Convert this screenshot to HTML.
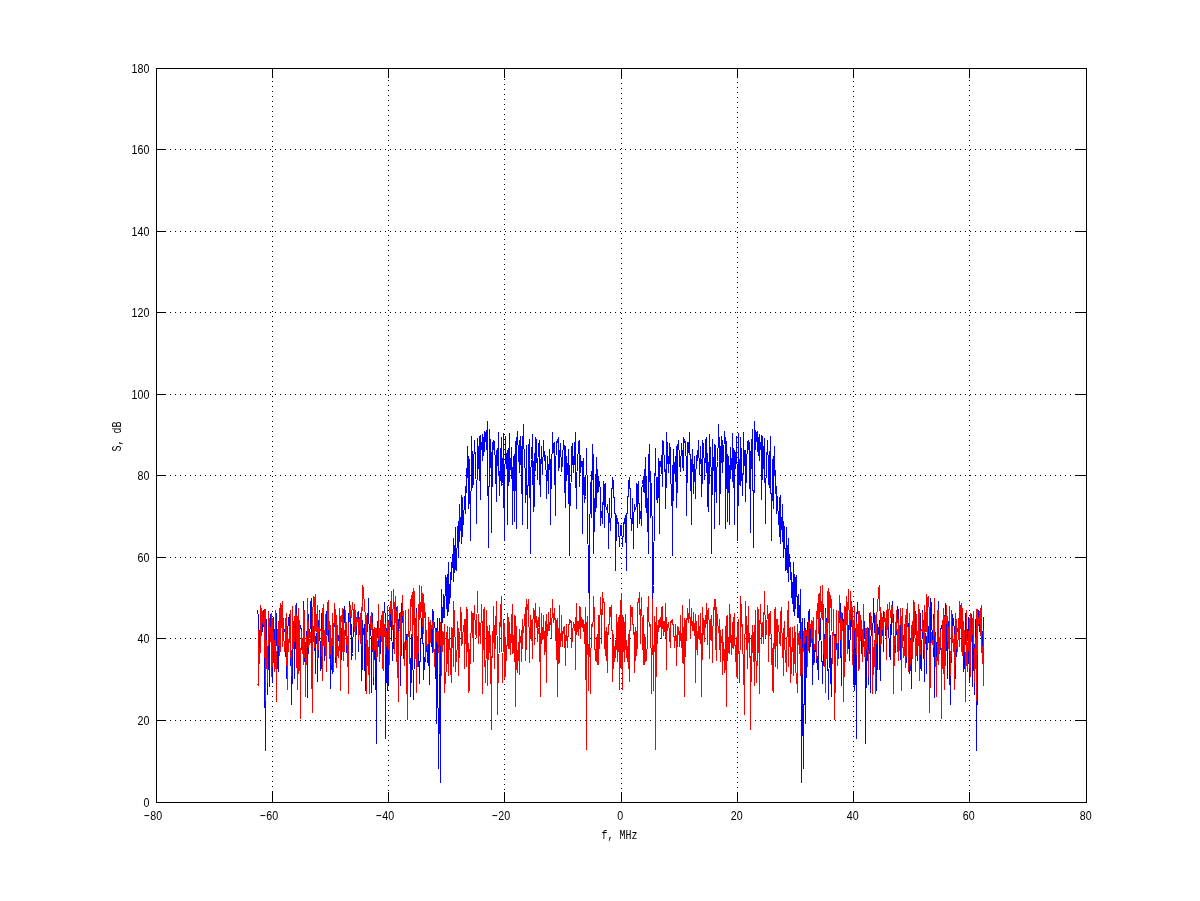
<!DOCTYPE html>
<html><head><meta charset="utf-8"><title>plot</title>
<style>
html,body{margin:0;padding:0;background:#fff;}
svg{display:block}
text{font-family:"Liberation Sans",sans-serif;font-size:12px;fill:#000}
.m{font-family:"Liberation Mono",monospace;font-size:13px}
</style></head><body>
<svg width="1200" height="901" viewBox="0 0 1200 901">
<rect width="1200" height="901" fill="#fff"/>
<g stroke="#000" stroke-width="1" stroke-dasharray="1 4" shape-rendering="crispEdges"><line x1="272.5" y1="71" x2="272.5" y2="802"/><line x1="388.5" y1="70" x2="388.5" y2="802"/><line x1="504.5" y1="74" x2="504.5" y2="802"/><line x1="621.5" y1="73" x2="621.5" y2="802"/><line x1="737.5" y1="72" x2="737.5" y2="802"/><line x1="853.5" y1="71" x2="853.5" y2="802"/><line x1="969.5" y1="70" x2="969.5" y2="802"/><line x1="160" y1="720.5" x2="1077" y2="720.5"/><line x1="160" y1="638.5" x2="1077" y2="638.5"/><line x1="160" y1="557.5" x2="1077" y2="557.5"/><line x1="160" y1="475.5" x2="1077" y2="475.5"/><line x1="160" y1="394.5" x2="1077" y2="394.5"/><line x1="160" y1="312.5" x2="1077" y2="312.5"/><line x1="160" y1="231.5" x2="1077" y2="231.5"/><line x1="160" y1="149.5" x2="1077" y2="149.5"/></g>
<polyline points="257.5,610.5 258.5,616.5 258.5,619.5 259.5,651.5 260.5,609.5 260.5,625.5 261.5,631.5 261.5,616.5 262.5,613.5 262.5,631.5 263.5,610.5 264.5,643.5 264.5,662.5 265.5,750.5 265.5,638.5 266.5,619.5 267.5,670.5 267.5,694.5 268.5,647.5 268.5,641.5 269.5,686.5 269.5,638.5 270.5,614.5 271.5,662.5 271.5,675.5 272.5,653.5 272.5,682.5 273.5,645.5 273.5,617.5 274.5,640.5 275.5,630.5 275.5,611.5 276.5,614.5 276.5,623.5 277.5,668.5 278.5,642.5 278.5,671.5 279.5,626.5 279.5,634.5 280.5,642.5 280.5,639.5 281.5,605.5 282.5,645.5 282.5,638.5 283.5,618.5 283.5,625.5 284.5,631.5 285.5,631.5 285.5,656.5 286.5,630.5 286.5,676.5 287.5,681.5 287.5,631.5 288.5,620.5 289.5,614.5 289.5,633.5 290.5,635.5 290.5,624.5 291.5,704.5 292.5,664.5 292.5,659.5 293.5,638.5 293.5,622.5 294.5,620.5 294.5,678.5 295.5,622.5 296.5,628.5 296.5,603.5 297.5,627.5 297.5,616.5 298.5,628.5 298.5,625.5 299.5,630.5 300.5,626.5 300.5,625.5 301.5,630.5 301.5,647.5 302.5,652.5 303.5,640.5 303.5,601.5 304.5,624.5 304.5,640.5 305.5,683.5 305.5,642.5 306.5,648.5 307.5,614.5 307.5,697.5 308.5,614.5 308.5,641.5 309.5,638.5 310.5,620.5 310.5,604.5 311.5,598.5 311.5,665.5 312.5,623.5 312.5,654.5 313.5,630.5 314.5,621.5 314.5,628.5 315.5,673.5 315.5,636.5 316.5,643.5 317.5,622.5 317.5,681.5 318.5,636.5 318.5,620.5 319.5,634.5 319.5,610.5 320.5,670.5 321.5,667.5 321.5,613.5 322.5,630.5 322.5,624.5 323.5,642.5 323.5,621.5 324.5,660.5 325.5,629.5 325.5,643.5 326.5,611.5 326.5,634.5 327.5,634.5 328.5,625.5 328.5,640.5 329.5,642.5 329.5,621.5 330.5,637.5 330.5,688.5 331.5,652.5 332.5,625.5 332.5,673.5 333.5,630.5 333.5,623.5 334.5,623.5 335.5,630.5 335.5,662.5 336.5,645.5 336.5,631.5 337.5,640.5 337.5,629.5 338.5,640.5 339.5,636.5 339.5,614.5 340.5,631.5 340.5,671.5 341.5,648.5 342.5,608.5 342.5,643.5 343.5,634.5 343.5,609.5 344.5,622.5 344.5,606.5 345.5,619.5 346.5,652.5 346.5,649.5 347.5,644.5 347.5,637.5 348.5,664.5 348.5,625.5 349.5,601.5 350.5,634.5 350.5,614.5 351.5,633.5 351.5,659.5 352.5,653.5 353.5,621.5 353.5,614.5 354.5,608.5 354.5,609.5 355.5,617.5 355.5,649.5 356.5,621.5 357.5,613.5 357.5,615.5 358.5,611.5 358.5,651.5 359.5,620.5 360.5,629.5 360.5,630.5 361.5,626.5 361.5,680.5 362.5,659.5 362.5,620.5 363.5,634.5 364.5,624.5 364.5,651.5 365.5,690.5 365.5,632.5 366.5,628.5 366.5,637.5 367.5,627.5 368.5,598.5 368.5,609.5 369.5,637.5 369.5,642.5 370.5,628.5 371.5,643.5 371.5,692.5 372.5,613.5 372.5,619.5 373.5,637.5 373.5,684.5 374.5,637.5 375.5,638.5 375.5,634.5 376.5,743.5 376.5,655.5 377.5,621.5 378.5,646.5 378.5,642.5 379.5,645.5 379.5,659.5 380.5,648.5 380.5,635.5 381.5,630.5 382.5,620.5 382.5,648.5 383.5,663.5 383.5,624.5 384.5,602.5 385.5,622.5 385.5,738.5 386.5,628.5 386.5,675.5 387.5,690.5 387.5,613.5 388.5,684.5 389.5,620.5 389.5,621.5 390.5,626.5 390.5,617.5 391.5,606.5 391.5,621.5 392.5,660.5 393.5,637.5 393.5,625.5 394.5,645.5 394.5,632.5 395.5,603.5 396.5,635.5 396.5,607.5 397.5,662.5 397.5,651.5 398.5,619.5 398.5,629.5 399.5,613.5 400.5,635.5 400.5,685.5 401.5,629.5 401.5,603.5 402.5,622.5 403.5,616.5 403.5,658.5 404.5,653.5 404.5,652.5 405.5,647.5 405.5,648.5 406.5,634.5 407.5,639.5 407.5,645.5 408.5,622.5 408.5,611.5 409.5,657.5 410.5,659.5 410.5,696.5 411.5,670.5 411.5,649.5 412.5,619.5 412.5,639.5 413.5,699.5 414.5,641.5 414.5,633.5 415.5,631.5 415.5,618.5 416.5,636.5 416.5,608.5 417.5,661.5 418.5,623.5 418.5,650.5 419.5,683.5 419.5,661.5 420.5,661.5 421.5,618.5 421.5,623.5 422.5,622.5 422.5,605.5 423.5,679.5 423.5,643.5 424.5,669.5 425.5,655.5 425.5,634.5 426.5,645.5 426.5,641.5 427.5,662.5 428.5,631.5 428.5,647.5 429.5,684.5 429.5,636.5 430.5,635.5 430.5,624.5 431.5,646.5 432.5,609.5 432.5,652.5 433.5,611.5 433.5,623.5 434.5,622.5 435.5,632.5 435.5,632.5 436.5,723.5 436.5,637.5 437.5,618.5 437.5,644.5 438.5,768.5 439.5,700.5 439.5,618.5 440.5,782.5 440.5,648.5 441.5,637.5 441.5,589.5 442.5,622.5 443.5,594.5 443.5,617.5 444.5,596.5 444.5,617.5 445.5,575.5 446.5,608.5 446.5,577.5 447.5,615.5 447.5,574.5 448.5,611.5 448.5,562.5 449.5,603.5 450.5,572.5 450.5,597.5 451.5,562.5 451.5,579.5 452.5,554.5 453.5,581.5 453.5,538.5 454.5,572.5 454.5,545.5 455.5,569.5 455.5,527.5 456.5,570.5 457.5,526.5 457.5,547.5 458.5,521.5 458.5,557.5 459.5,504.5 459.5,541.5 460.5,517.5 461.5,543.5 461.5,495.5 462.5,536.5 462.5,497.5 463.5,524.5 464.5,496.5 464.5,506.5 465.5,486.5 465.5,513.5 466.5,473.5 466.5,491.5 467.5,446.5 468.5,508.5 468.5,456.5 469.5,461.5 469.5,464.5 470.5,540.5 471.5,444.5 471.5,436.5 472.5,465.5 472.5,487.5 473.5,482.5 473.5,468.5 474.5,440.5 475.5,463.5 475.5,457.5 476.5,500.5 476.5,523.5 477.5,438.5 478.5,453.5 478.5,468.5 479.5,436.5 479.5,462.5 480.5,499.5 480.5,435.5 481.5,449.5 482.5,434.5 482.5,460.5 483.5,437.5 483.5,455.5 484.5,431.5 484.5,451.5 485.5,432.5 486.5,449.5 486.5,438.5 487.5,421.5 487.5,442.5 488.5,547.5 489.5,429.5 489.5,478.5 490.5,458.5 490.5,439.5 491.5,463.5 491.5,532.5 492.5,442.5 493.5,449.5 493.5,440.5 494.5,441.5 494.5,442.5 495.5,466.5 496.5,501.5 496.5,450.5 497.5,465.5 497.5,465.5 498.5,432.5 498.5,456.5 499.5,495.5 500.5,448.5 500.5,480.5 501.5,437.5 501.5,485.5 502.5,483.5 503.5,433.5 503.5,472.5 504.5,540.5 504.5,466.5 505.5,461.5 505.5,436.5 506.5,468.5 507.5,450.5 507.5,524.5 508.5,448.5 508.5,477.5 509.5,433.5 509.5,481.5 510.5,458.5 511.5,478.5 511.5,447.5 512.5,484.5 512.5,524.5 513.5,458.5 514.5,454.5 514.5,521.5 515.5,441.5 515.5,450.5 516.5,528.5 516.5,442.5 517.5,431.5 518.5,458.5 518.5,451.5 519.5,472.5 519.5,443.5 520.5,436.5 521.5,493.5 521.5,446.5 522.5,524.5 522.5,448.5 523.5,424.5 523.5,435.5 524.5,461.5 525.5,473.5 525.5,502.5 526.5,445.5 526.5,458.5 527.5,528.5 528.5,444.5 528.5,470.5 529.5,445.5 529.5,439.5 530.5,553.5 530.5,474.5 531.5,459.5 532.5,434.5 532.5,458.5 533.5,511.5 533.5,469.5 534.5,453.5 534.5,506.5 535.5,437.5 536.5,462.5 536.5,439.5 537.5,479.5 537.5,470.5 538.5,445.5 539.5,440.5 539.5,472.5 540.5,496.5 540.5,459.5 541.5,463.5 541.5,446.5 542.5,474.5 543.5,440.5 543.5,442.5 544.5,458.5 544.5,460.5 545.5,455.5 546.5,483.5 546.5,498.5 547.5,464.5 547.5,456.5 548.5,471.5 548.5,493.5 549.5,449.5 550.5,468.5 550.5,524.5 551.5,454.5 551.5,459.5 552.5,449.5 552.5,432.5 553.5,452.5 554.5,442.5 554.5,454.5 555.5,515.5 555.5,470.5 556.5,441.5 557.5,442.5 557.5,441.5 558.5,437.5 558.5,470.5 559.5,465.5 559.5,456.5 560.5,443.5 561.5,469.5 561.5,471.5 562.5,462.5 562.5,459.5 563.5,440.5 564.5,448.5 564.5,492.5 565.5,446.5 565.5,507.5 566.5,456.5 566.5,458.5 567.5,466.5 568.5,482.5 568.5,449.5 569.5,555.5 569.5,465.5 570.5,505.5 571.5,461.5 571.5,449.5 572.5,443.5 572.5,456.5 573.5,472.5 573.5,469.5 574.5,442.5 575.5,487.5 575.5,432.5 576.5,508.5 576.5,486.5 577.5,457.5 577.5,467.5 578.5,441.5 579.5,440.5 579.5,486.5 580.5,461.5 580.5,455.5 581.5,466.5 582.5,461.5 582.5,533.5 583.5,458.5 583.5,465.5 584.5,488.5 584.5,502.5 585.5,496.5 586.5,455.5 586.5,448.5 587.5,499.5 587.5,500.5 588.5,585.5 589.5,600.5 589.5,545.5 590.5,484.5 590.5,493.5 591.5,471.5 591.5,517.5 592.5,444.5 593.5,463.5 593.5,553.5 594.5,498.5 594.5,531.5 595.5,492.5 596.5,457.5 596.5,507.5 597.5,469.5 597.5,492.5 598.5,490.5 598.5,476.5 599.5,484.5 600.5,489.5 600.5,525.5 601.5,511.5 601.5,516.5 602.5,509.5 602.5,523.5 603.5,481.5 604.5,527.5 604.5,485.5 605.5,483.5 605.5,504.5 606.5,509.5 607.5,510.5 607.5,504.5 608.5,520.5 608.5,548.5 609.5,498.5 609.5,505.5 610.5,530.5 611.5,506.5 611.5,498.5 612.5,477.5 612.5,488.5 613.5,480.5 614.5,513.5 614.5,513.5 615.5,513.5 615.5,570.5 616.5,515.5 616.5,529.5 617.5,518.5 618.5,525.5 618.5,536.5 619.5,536.5 619.5,546.5 620.5,525.5 621.5,533.5 621.5,525.5 622.5,546.5 622.5,536.5 623.5,536.5 623.5,525.5 624.5,518.5 625.5,529.5 625.5,515.5 626.5,570.5 626.5,513.5 627.5,513.5 627.5,513.5 628.5,480.5 629.5,488.5 629.5,477.5 630.5,498.5 630.5,506.5 631.5,530.5 632.5,505.5 632.5,498.5 633.5,548.5 633.5,520.5 634.5,504.5 634.5,510.5 635.5,509.5 636.5,504.5 636.5,483.5 637.5,485.5 637.5,527.5 638.5,481.5 639.5,523.5 639.5,509.5 640.5,516.5 640.5,511.5 641.5,525.5 641.5,489.5 642.5,484.5 643.5,476.5 643.5,490.5 644.5,492.5 644.5,469.5 645.5,507.5 645.5,457.5 646.5,492.5 647.5,531.5 647.5,498.5 648.5,553.5 648.5,463.5 649.5,444.5 650.5,517.5 650.5,471.5 651.5,493.5 651.5,484.5 652.5,545.5 652.5,600.5 653.5,585.5 654.5,500.5 654.5,499.5 655.5,448.5 655.5,455.5 656.5,496.5 657.5,502.5 657.5,488.5 658.5,465.5 658.5,458.5 659.5,533.5 659.5,461.5 660.5,466.5 661.5,455.5 661.5,461.5 662.5,486.5 662.5,440.5 663.5,441.5 664.5,467.5 664.5,457.5 665.5,486.5 665.5,508.5 666.5,432.5 666.5,487.5 667.5,442.5 668.5,469.5 668.5,472.5 669.5,456.5 669.5,443.5 670.5,449.5 670.5,461.5 671.5,505.5 672.5,465.5 672.5,555.5 673.5,449.5 673.5,482.5 674.5,466.5 675.5,458.5 675.5,456.5 676.5,507.5 676.5,446.5 677.5,492.5 677.5,448.5 678.5,440.5 679.5,459.5 679.5,462.5 680.5,471.5 680.5,469.5 681.5,443.5 682.5,456.5 682.5,465.5 683.5,470.5 683.5,437.5 684.5,441.5 684.5,442.5 685.5,441.5 686.5,470.5 686.5,515.5 687.5,454.5 687.5,442.5 688.5,452.5 689.5,432.5 689.5,449.5 690.5,459.5 690.5,454.5 691.5,524.5 691.5,468.5 692.5,449.5 693.5,493.5 693.5,471.5 694.5,456.5 694.5,464.5 695.5,498.5 695.5,483.5 696.5,455.5 697.5,460.5 697.5,458.5 698.5,442.5 698.5,440.5 699.5,474.5 700.5,446.5 700.5,463.5 701.5,459.5 701.5,496.5 702.5,472.5 702.5,440.5 703.5,445.5 704.5,470.5 704.5,479.5 705.5,439.5 705.5,462.5 706.5,437.5 707.5,506.5 707.5,453.5 708.5,469.5 708.5,511.5 709.5,458.5 709.5,434.5 710.5,459.5 711.5,474.5 711.5,553.5 712.5,439.5 712.5,445.5 713.5,470.5 714.5,444.5 714.5,528.5 715.5,458.5 715.5,445.5 716.5,502.5 716.5,473.5 717.5,461.5 718.5,435.5 718.5,424.5 719.5,448.5 719.5,524.5 720.5,446.5 720.5,493.5 721.5,436.5 722.5,443.5 722.5,472.5 723.5,451.5 723.5,458.5 724.5,431.5 725.5,442.5 725.5,528.5 726.5,450.5 726.5,441.5 727.5,521.5 727.5,454.5 728.5,458.5 729.5,524.5 729.5,484.5 730.5,447.5 730.5,478.5 731.5,458.5 732.5,481.5 732.5,433.5 733.5,477.5 733.5,448.5 734.5,524.5 734.5,450.5 735.5,468.5 736.5,436.5 736.5,461.5 737.5,466.5 737.5,540.5 738.5,472.5 738.5,433.5 739.5,483.5 740.5,485.5 740.5,437.5 741.5,480.5 741.5,448.5 742.5,495.5 743.5,456.5 743.5,432.5 744.5,465.5 744.5,465.5 745.5,450.5 745.5,501.5 746.5,466.5 747.5,442.5 747.5,441.5 748.5,440.5 748.5,449.5 749.5,442.5 750.5,532.5 750.5,463.5 751.5,439.5 751.5,458.5 752.5,478.5 752.5,429.5 753.5,547.5 754.5,442.5 754.5,421.5 755.5,438.5 755.5,449.5 756.5,432.5 757.5,451.5 757.5,431.5 758.5,455.5 758.5,437.5 759.5,460.5 759.5,434.5 760.5,449.5 761.5,435.5 761.5,499.5 762.5,462.5 762.5,436.5 763.5,468.5 763.5,453.5 764.5,438.5 765.5,523.5 765.5,500.5 766.5,457.5 766.5,463.5 767.5,440.5 768.5,468.5 768.5,482.5 769.5,487.5 769.5,465.5 770.5,436.5 770.5,444.5 771.5,540.5 772.5,464.5 772.5,461.5 773.5,456.5 773.5,508.5 774.5,446.5 775.5,491.5 775.5,473.5 776.5,513.5 776.5,486.5 777.5,506.5 777.5,496.5 778.5,524.5 779.5,497.5 779.5,536.5 780.5,495.5 780.5,543.5 781.5,517.5 782.5,541.5 782.5,504.5 783.5,557.5 783.5,521.5 784.5,547.5 784.5,526.5 785.5,570.5 786.5,527.5 786.5,569.5 787.5,545.5 787.5,572.5 788.5,538.5 788.5,581.5 789.5,554.5 790.5,579.5 790.5,562.5 791.5,597.5 791.5,572.5 792.5,603.5 793.5,562.5 793.5,611.5 794.5,574.5 794.5,615.5 795.5,577.5 795.5,608.5 796.5,575.5 797.5,617.5 797.5,596.5 798.5,617.5 798.5,594.5 799.5,622.5 800.5,589.5 800.5,637.5 801.5,648.5 801.5,782.5 802.5,618.5 802.5,700.5 803.5,768.5 804.5,644.5 804.5,618.5 805.5,637.5 805.5,723.5 806.5,632.5 807.5,632.5 807.5,622.5 808.5,623.5 808.5,611.5 809.5,652.5 809.5,609.5 810.5,646.5 811.5,624.5 811.5,635.5 812.5,636.5 812.5,684.5 813.5,647.5 813.5,631.5 814.5,662.5 815.5,641.5 815.5,645.5 816.5,634.5 816.5,655.5 817.5,669.5 818.5,643.5 818.5,679.5 819.5,605.5 819.5,622.5 820.5,623.5 820.5,618.5 821.5,661.5 822.5,661.5 822.5,683.5 823.5,650.5 823.5,623.5 824.5,661.5 825.5,608.5 825.5,636.5 826.5,618.5 826.5,631.5 827.5,633.5 827.5,641.5 828.5,699.5 829.5,639.5 829.5,619.5 830.5,649.5 830.5,670.5 831.5,696.5 831.5,659.5 832.5,657.5 833.5,611.5 833.5,622.5 834.5,645.5 834.5,639.5 835.5,634.5 836.5,648.5 836.5,647.5 837.5,652.5 837.5,653.5 838.5,658.5 838.5,616.5 839.5,622.5 840.5,603.5 840.5,629.5 841.5,685.5 841.5,635.5 842.5,613.5 843.5,629.5 843.5,619.5 844.5,651.5 844.5,662.5 845.5,607.5 845.5,635.5 846.5,603.5 847.5,632.5 847.5,645.5 848.5,625.5 848.5,637.5 849.5,660.5 850.5,621.5 850.5,606.5 851.5,617.5 851.5,626.5 852.5,621.5 852.5,620.5 853.5,684.5 854.5,613.5 854.5,690.5 855.5,675.5 855.5,628.5 856.5,738.5 856.5,622.5 857.5,602.5 858.5,624.5 858.5,663.5 859.5,648.5 859.5,620.5 860.5,630.5 861.5,635.5 861.5,648.5 862.5,659.5 862.5,645.5 863.5,642.5 863.5,646.5 864.5,621.5 865.5,655.5 865.5,743.5 866.5,634.5 866.5,638.5 867.5,637.5 868.5,684.5 868.5,637.5 869.5,619.5 869.5,613.5 870.5,692.5 870.5,643.5 871.5,628.5 872.5,642.5 872.5,637.5 873.5,609.5 873.5,598.5 874.5,627.5 875.5,637.5 875.5,628.5 876.5,632.5 876.5,690.5 877.5,651.5 877.5,624.5 878.5,634.5 879.5,620.5 879.5,659.5 880.5,680.5 880.5,626.5 881.5,630.5 881.5,629.5 882.5,620.5 883.5,651.5 883.5,611.5 884.5,615.5 884.5,613.5 885.5,621.5 886.5,649.5 886.5,617.5 887.5,609.5 887.5,608.5 888.5,614.5 888.5,621.5 889.5,653.5 890.5,659.5 890.5,633.5 891.5,614.5 891.5,634.5 892.5,601.5 893.5,625.5 893.5,664.5 894.5,637.5 894.5,644.5 895.5,649.5 895.5,652.5 896.5,619.5 897.5,606.5 897.5,622.5 898.5,609.5 898.5,634.5 899.5,643.5 900.5,608.5 900.5,648.5 901.5,671.5 901.5,631.5 902.5,614.5 902.5,636.5 903.5,640.5 904.5,629.5 904.5,640.5 905.5,631.5 905.5,645.5 906.5,662.5 906.5,630.5 907.5,623.5 908.5,623.5 908.5,630.5 909.5,673.5 909.5,625.5 910.5,652.5 911.5,688.5 911.5,637.5 912.5,621.5 912.5,642.5 913.5,640.5 913.5,625.5 914.5,634.5 915.5,634.5 915.5,611.5 916.5,643.5 916.5,629.5 917.5,660.5 918.5,621.5 918.5,642.5 919.5,624.5 919.5,630.5 920.5,613.5 920.5,667.5 921.5,670.5 922.5,610.5 922.5,634.5 923.5,620.5 923.5,636.5 924.5,681.5 924.5,622.5 925.5,643.5 926.5,636.5 926.5,673.5 927.5,628.5 927.5,621.5 928.5,630.5 929.5,654.5 929.5,623.5 930.5,665.5 930.5,598.5 931.5,604.5 931.5,620.5 932.5,638.5 933.5,641.5 933.5,614.5 934.5,697.5 934.5,614.5 935.5,648.5 936.5,642.5 936.5,683.5 937.5,640.5 937.5,624.5 938.5,601.5 938.5,640.5 939.5,652.5 940.5,647.5 940.5,630.5 941.5,625.5 941.5,626.5 942.5,630.5 943.5,625.5 943.5,628.5 944.5,616.5 944.5,627.5 945.5,603.5 945.5,628.5 946.5,622.5 947.5,678.5 947.5,620.5 948.5,622.5 948.5,638.5 949.5,659.5 949.5,664.5 950.5,704.5 951.5,624.5 951.5,635.5 952.5,633.5 952.5,614.5 953.5,620.5 954.5,631.5 954.5,681.5 955.5,676.5 955.5,630.5 956.5,656.5 956.5,631.5 957.5,631.5 958.5,625.5 958.5,618.5 959.5,638.5 959.5,645.5 960.5,605.5 961.5,639.5 961.5,642.5 962.5,634.5 962.5,626.5 963.5,671.5 963.5,642.5 964.5,668.5 965.5,623.5 965.5,614.5 966.5,611.5 966.5,630.5 967.5,640.5 968.5,617.5 968.5,645.5 969.5,682.5 969.5,653.5 970.5,675.5 970.5,662.5 971.5,614.5 972.5,638.5 972.5,686.5 973.5,641.5 973.5,647.5 974.5,694.5 974.5,670.5 975.5,619.5 976.5,638.5 976.5,750.5 977.5,662.5 977.5,643.5 978.5,610.5 979.5,631.5 979.5,613.5 980.5,616.5 980.5,631.5 981.5,625.5 981.5,609.5 982.5,651.5 983.5,619.5 983.5,616.5" fill="none" stroke="#0000ff" stroke-width="1" stroke-linejoin="bevel" shape-rendering="crispEdges"/>
<polyline points="257.5,684.5 258.5,685.5 258.5,630.5 259.5,663.5 260.5,642.5 260.5,605.5 261.5,610.5 261.5,635.5 262.5,611.5 262.5,618.5 263.5,624.5 264.5,609.5 264.5,613.5 265.5,700.5 265.5,609.5 266.5,668.5 267.5,656.5 267.5,682.5 268.5,611.5 268.5,616.5 269.5,634.5 269.5,618.5 270.5,641.5 271.5,613.5 271.5,676.5 272.5,658.5 272.5,618.5 273.5,644.5 273.5,632.5 274.5,671.5 275.5,610.5 275.5,633.5 276.5,701.5 276.5,665.5 277.5,637.5 278.5,621.5 278.5,635.5 279.5,655.5 279.5,612.5 280.5,603.5 280.5,651.5 281.5,606.5 282.5,646.5 282.5,601.5 283.5,635.5 283.5,629.5 284.5,651.5 285.5,645.5 285.5,623.5 286.5,613.5 286.5,642.5 287.5,689.5 287.5,634.5 288.5,651.5 289.5,626.5 289.5,642.5 290.5,610.5 290.5,639.5 291.5,675.5 292.5,625.5 292.5,606.5 293.5,648.5 293.5,639.5 294.5,616.5 294.5,641.5 295.5,605.5 296.5,622.5 296.5,645.5 297.5,689.5 297.5,623.5 298.5,608.5 298.5,673.5 299.5,620.5 300.5,718.5 300.5,662.5 301.5,633.5 301.5,631.5 302.5,643.5 303.5,664.5 303.5,610.5 304.5,610.5 304.5,653.5 305.5,661.5 305.5,696.5 306.5,636.5 307.5,635.5 307.5,598.5 308.5,641.5 308.5,647.5 309.5,642.5 310.5,638.5 310.5,632.5 311.5,653.5 311.5,665.5 312.5,712.5 312.5,617.5 313.5,596.5 314.5,598.5 314.5,647.5 315.5,616.5 315.5,594.5 316.5,631.5 317.5,605.5 317.5,658.5 318.5,627.5 318.5,649.5 319.5,612.5 319.5,631.5 320.5,629.5 321.5,630.5 321.5,631.5 322.5,680.5 322.5,612.5 323.5,604.5 323.5,644.5 324.5,646.5 325.5,614.5 325.5,649.5 326.5,662.5 326.5,671.5 327.5,602.5 328.5,625.5 328.5,600.5 329.5,658.5 329.5,621.5 330.5,654.5 330.5,625.5 331.5,664.5 332.5,613.5 332.5,620.5 333.5,671.5 333.5,648.5 334.5,603.5 335.5,614.5 335.5,646.5 336.5,667.5 336.5,615.5 337.5,633.5 337.5,653.5 338.5,657.5 339.5,635.5 339.5,608.5 340.5,690.5 340.5,616.5 341.5,621.5 342.5,608.5 342.5,642.5 343.5,660.5 343.5,619.5 344.5,639.5 344.5,651.5 345.5,610.5 346.5,633.5 346.5,644.5 347.5,636.5 347.5,640.5 348.5,693.5 348.5,638.5 349.5,607.5 350.5,605.5 350.5,616.5 351.5,617.5 351.5,617.5 352.5,602.5 353.5,615.5 353.5,626.5 354.5,615.5 354.5,604.5 355.5,659.5 355.5,610.5 356.5,625.5 357.5,618.5 357.5,612.5 358.5,624.5 358.5,639.5 359.5,620.5 360.5,613.5 360.5,642.5 361.5,645.5 361.5,607.5 362.5,610.5 362.5,585.5 363.5,589.5 364.5,608.5 364.5,609.5 365.5,614.5 365.5,643.5 366.5,615.5 366.5,693.5 367.5,640.5 368.5,674.5 368.5,647.5 369.5,693.5 369.5,642.5 370.5,616.5 371.5,629.5 371.5,612.5 372.5,633.5 372.5,637.5 373.5,662.5 373.5,676.5 374.5,627.5 375.5,628.5 375.5,640.5 376.5,657.5 376.5,628.5 377.5,656.5 378.5,625.5 378.5,604.5 379.5,661.5 379.5,636.5 380.5,620.5 380.5,635.5 381.5,615.5 382.5,668.5 382.5,611.5 383.5,670.5 383.5,611.5 384.5,636.5 385.5,622.5 385.5,654.5 386.5,640.5 386.5,632.5 387.5,629.5 387.5,606.5 388.5,634.5 389.5,664.5 389.5,612.5 390.5,601.5 390.5,613.5 391.5,591.5 391.5,611.5 392.5,629.5 393.5,589.5 393.5,590.5 394.5,613.5 394.5,653.5 395.5,596.5 396.5,625.5 396.5,661.5 397.5,606.5 397.5,654.5 398.5,701.5 398.5,632.5 399.5,629.5 400.5,612.5 400.5,655.5 401.5,623.5 401.5,639.5 402.5,595.5 403.5,626.5 403.5,639.5 404.5,647.5 404.5,665.5 405.5,619.5 405.5,610.5 406.5,668.5 407.5,719.5 407.5,646.5 408.5,624.5 408.5,609.5 409.5,663.5 410.5,599.5 410.5,619.5 411.5,595.5 411.5,597.5 412.5,592.5 412.5,636.5 413.5,588.5 414.5,659.5 414.5,591.5 415.5,658.5 415.5,622.5 416.5,692.5 416.5,613.5 417.5,666.5 418.5,640.5 418.5,604.5 419.5,619.5 419.5,585.5 420.5,617.5 421.5,606.5 421.5,586.5 422.5,599.5 422.5,626.5 423.5,594.5 423.5,633.5 424.5,603.5 425.5,619.5 425.5,658.5 426.5,630.5 426.5,641.5 427.5,649.5 428.5,638.5 428.5,617.5 429.5,625.5 429.5,636.5 430.5,642.5 430.5,620.5 431.5,628.5 432.5,628.5 432.5,624.5 433.5,620.5 433.5,637.5 434.5,666.5 435.5,633.5 435.5,630.5 436.5,641.5 436.5,634.5 437.5,630.5 437.5,643.5 438.5,631.5 439.5,673.5 439.5,672.5 440.5,622.5 440.5,624.5 441.5,653.5 441.5,675.5 442.5,631.5 443.5,644.5 443.5,640.5 444.5,624.5 444.5,692.5 445.5,675.5 446.5,669.5 446.5,632.5 447.5,663.5 447.5,626.5 448.5,650.5 448.5,675.5 449.5,627.5 450.5,667.5 450.5,666.5 451.5,682.5 451.5,627.5 452.5,628.5 453.5,666.5 453.5,601.5 454.5,618.5 454.5,632.5 455.5,641.5 455.5,671.5 456.5,653.5 457.5,646.5 457.5,621.5 458.5,675.5 458.5,628.5 459.5,654.5 459.5,657.5 460.5,607.5 461.5,615.5 461.5,645.5 462.5,641.5 462.5,633.5 463.5,630.5 464.5,619.5 464.5,668.5 465.5,622.5 465.5,630.5 466.5,607.5 466.5,666.5 467.5,609.5 468.5,692.5 468.5,643.5 469.5,653.5 469.5,690.5 470.5,639.5 471.5,627.5 471.5,611.5 472.5,625.5 472.5,613.5 473.5,661.5 473.5,621.5 474.5,605.5 475.5,634.5 475.5,631.5 476.5,632.5 476.5,637.5 477.5,591.5 478.5,634.5 478.5,643.5 479.5,629.5 479.5,622.5 480.5,623.5 480.5,643.5 481.5,604.5 482.5,636.5 482.5,693.5 483.5,609.5 483.5,614.5 484.5,607.5 484.5,650.5 485.5,682.5 486.5,638.5 486.5,610.5 487.5,640.5 487.5,685.5 488.5,637.5 489.5,625.5 489.5,644.5 490.5,661.5 490.5,635.5 491.5,729.5 491.5,656.5 492.5,657.5 493.5,606.5 493.5,642.5 494.5,625.5 494.5,668.5 495.5,630.5 496.5,601.5 496.5,614.5 497.5,655.5 497.5,714.5 498.5,655.5 498.5,666.5 499.5,641.5 500.5,604.5 500.5,626.5 501.5,596.5 501.5,621.5 502.5,682.5 503.5,625.5 503.5,619.5 504.5,626.5 504.5,678.5 505.5,637.5 505.5,676.5 506.5,646.5 507.5,644.5 507.5,613.5 508.5,620.5 508.5,648.5 509.5,622.5 509.5,642.5 510.5,654.5 511.5,614.5 511.5,642.5 512.5,604.5 512.5,653.5 513.5,652.5 514.5,619.5 514.5,615.5 515.5,706.5 515.5,616.5 516.5,669.5 516.5,626.5 517.5,672.5 518.5,649.5 518.5,642.5 519.5,674.5 519.5,629.5 520.5,642.5 521.5,630.5 521.5,661.5 522.5,637.5 522.5,619.5 523.5,632.5 523.5,631.5 524.5,620.5 525.5,607.5 525.5,660.5 526.5,639.5 526.5,599.5 527.5,609.5 528.5,599.5 528.5,614.5 529.5,638.5 529.5,662.5 530.5,618.5 530.5,615.5 531.5,623.5 532.5,658.5 532.5,630.5 533.5,608.5 533.5,609.5 534.5,611.5 534.5,644.5 535.5,603.5 536.5,627.5 536.5,627.5 537.5,620.5 537.5,641.5 538.5,627.5 539.5,607.5 539.5,625.5 540.5,696.5 540.5,633.5 541.5,643.5 541.5,613.5 542.5,639.5 543.5,615.5 543.5,638.5 544.5,631.5 544.5,654.5 545.5,621.5 546.5,682.5 546.5,614.5 547.5,632.5 547.5,635.5 548.5,626.5 548.5,612.5 549.5,630.5 550.5,620.5 550.5,608.5 551.5,626.5 551.5,638.5 552.5,599.5 552.5,603.5 553.5,622.5 554.5,608.5 554.5,619.5 555.5,618.5 555.5,640.5 556.5,620.5 557.5,696.5 557.5,618.5 558.5,636.5 558.5,663.5 559.5,605.5 559.5,662.5 560.5,633.5 561.5,640.5 561.5,615.5 562.5,646.5 562.5,640.5 563.5,628.5 564.5,626.5 564.5,630.5 565.5,665.5 565.5,635.5 566.5,640.5 566.5,624.5 567.5,647.5 568.5,626.5 568.5,628.5 569.5,619.5 569.5,624.5 570.5,620.5 571.5,621.5 571.5,647.5 572.5,636.5 572.5,633.5 573.5,622.5 573.5,625.5 574.5,630.5 575.5,617.5 575.5,669.5 576.5,603.5 576.5,626.5 577.5,631.5 577.5,621.5 578.5,635.5 579.5,606.5 579.5,619.5 580.5,638.5 580.5,607.5 581.5,626.5 582.5,619.5 582.5,627.5 583.5,623.5 583.5,620.5 584.5,643.5 584.5,641.5 585.5,607.5 586.5,749.5 586.5,622.5 587.5,651.5 587.5,616.5 588.5,690.5 589.5,599.5 589.5,618.5 590.5,693.5 590.5,657.5 591.5,638.5 591.5,624.5 592.5,626.5 593.5,617.5 593.5,596.5 594.5,617.5 594.5,638.5 595.5,660.5 596.5,637.5 596.5,661.5 597.5,634.5 597.5,664.5 598.5,615.5 598.5,664.5 599.5,634.5 600.5,597.5 600.5,598.5 601.5,619.5 601.5,615.5" fill="none" stroke="#ff0000" stroke-width="1" stroke-linejoin="bevel" shape-rendering="crispEdges"/><polyline points="640.5,615.5 640.5,619.5 641.5,598.5 641.5,597.5 642.5,634.5 643.5,664.5 643.5,615.5 644.5,664.5 644.5,634.5 645.5,661.5 645.5,637.5 646.5,660.5 647.5,638.5 647.5,617.5 648.5,596.5 648.5,617.5 649.5,626.5 650.5,624.5 650.5,638.5 651.5,657.5 651.5,693.5 652.5,618.5 652.5,599.5 653.5,690.5 654.5,616.5 654.5,651.5 655.5,622.5 655.5,749.5 656.5,607.5 657.5,641.5 657.5,643.5 658.5,620.5 658.5,623.5 659.5,627.5 659.5,619.5 660.5,626.5 661.5,607.5 661.5,638.5 662.5,619.5 662.5,606.5 663.5,635.5 664.5,621.5 664.5,631.5 665.5,626.5 665.5,603.5 666.5,669.5 666.5,617.5 667.5,630.5 668.5,625.5 668.5,622.5 669.5,633.5 669.5,636.5 670.5,647.5 670.5,621.5 671.5,620.5 672.5,624.5 672.5,619.5 673.5,628.5 673.5,626.5 674.5,647.5 675.5,624.5 675.5,640.5 676.5,635.5 676.5,665.5 677.5,630.5 677.5,626.5 678.5,628.5 679.5,640.5 679.5,646.5 680.5,615.5 680.5,640.5 681.5,633.5 682.5,662.5 682.5,605.5 683.5,663.5 683.5,636.5 684.5,618.5 684.5,696.5 685.5,620.5 686.5,640.5 686.5,618.5 687.5,619.5 687.5,608.5 688.5,622.5 689.5,603.5 689.5,599.5 690.5,638.5 690.5,626.5 691.5,608.5 691.5,620.5 692.5,630.5 693.5,612.5 693.5,626.5 694.5,635.5 694.5,632.5 695.5,614.5 695.5,682.5 696.5,621.5 697.5,654.5 697.5,631.5 698.5,638.5 698.5,615.5 699.5,639.5 700.5,613.5 700.5,643.5 701.5,633.5 701.5,696.5 702.5,625.5 702.5,607.5 703.5,627.5 704.5,641.5 704.5,620.5 705.5,627.5 705.5,627.5 706.5,603.5 707.5,644.5 707.5,611.5 708.5,609.5 708.5,608.5 709.5,630.5 709.5,658.5 710.5,623.5 711.5,615.5 711.5,618.5 712.5,662.5 712.5,638.5 713.5,614.5 714.5,599.5 714.5,609.5 715.5,599.5 715.5,639.5 716.5,660.5 716.5,607.5 717.5,620.5 718.5,631.5 718.5,632.5 719.5,619.5 719.5,637.5 720.5,661.5 720.5,630.5 721.5,642.5 722.5,629.5 722.5,674.5 723.5,642.5 723.5,649.5 724.5,672.5 725.5,626.5 725.5,669.5 726.5,616.5 726.5,706.5 727.5,615.5 727.5,619.5 728.5,652.5 729.5,653.5 729.5,604.5 730.5,642.5 730.5,614.5 731.5,654.5 732.5,642.5 732.5,622.5 733.5,648.5 733.5,620.5 734.5,613.5 734.5,644.5 735.5,646.5 736.5,676.5 736.5,637.5 737.5,678.5 737.5,626.5 738.5,619.5 738.5,625.5 739.5,682.5 740.5,621.5 740.5,596.5 741.5,626.5 741.5,604.5 742.5,641.5 743.5,666.5 743.5,655.5 744.5,714.5 744.5,655.5 745.5,614.5 745.5,601.5 746.5,630.5 747.5,668.5 747.5,625.5 748.5,642.5 748.5,606.5 749.5,657.5 750.5,656.5 750.5,729.5 751.5,635.5 751.5,661.5 752.5,644.5 752.5,625.5 753.5,637.5 754.5,685.5 754.5,640.5 755.5,610.5 755.5,638.5 756.5,682.5 757.5,650.5 757.5,607.5 758.5,614.5 758.5,609.5 759.5,693.5 759.5,636.5 760.5,604.5 761.5,643.5 761.5,623.5 762.5,622.5 762.5,629.5 763.5,643.5 763.5,634.5 764.5,591.5 765.5,637.5 765.5,632.5 766.5,631.5 766.5,634.5 767.5,605.5 768.5,621.5 768.5,661.5 769.5,613.5 769.5,625.5 770.5,611.5 770.5,627.5 771.5,639.5 772.5,690.5 772.5,653.5 773.5,643.5 773.5,692.5 774.5,609.5 775.5,666.5 775.5,607.5 776.5,630.5 776.5,622.5 777.5,668.5 777.5,619.5 778.5,630.5 779.5,633.5 779.5,641.5 780.5,645.5 780.5,615.5 781.5,607.5 782.5,657.5 782.5,654.5 783.5,628.5 783.5,675.5 784.5,621.5 784.5,646.5 785.5,653.5 786.5,671.5 786.5,641.5 787.5,632.5 787.5,618.5 788.5,601.5 788.5,666.5 789.5,628.5 790.5,627.5 790.5,682.5 791.5,666.5 791.5,667.5 792.5,627.5 793.5,675.5 793.5,650.5 794.5,626.5 794.5,663.5 795.5,632.5 795.5,669.5 796.5,675.5 797.5,692.5 797.5,624.5 798.5,640.5 798.5,644.5 799.5,631.5 800.5,675.5 800.5,653.5 801.5,624.5 801.5,622.5 802.5,672.5 802.5,673.5 803.5,631.5 804.5,643.5 804.5,630.5 805.5,634.5 805.5,641.5 806.5,630.5 807.5,633.5 807.5,666.5 808.5,637.5 808.5,620.5 809.5,624.5 809.5,628.5 810.5,628.5 811.5,620.5 811.5,642.5 812.5,636.5 812.5,625.5 813.5,617.5 813.5,638.5 814.5,649.5 815.5,641.5 815.5,630.5 816.5,658.5 816.5,619.5 817.5,603.5 818.5,633.5 818.5,594.5 819.5,626.5 819.5,599.5 820.5,586.5 820.5,606.5 821.5,617.5 822.5,585.5 822.5,619.5 823.5,604.5 823.5,640.5 824.5,666.5 825.5,613.5 825.5,692.5 826.5,622.5 826.5,658.5 827.5,591.5 827.5,659.5 828.5,588.5 829.5,636.5 829.5,592.5 830.5,597.5 830.5,595.5 831.5,619.5 831.5,599.5 832.5,663.5 833.5,609.5 833.5,624.5 834.5,646.5 834.5,719.5 835.5,668.5 836.5,610.5 836.5,619.5 837.5,665.5 837.5,647.5 838.5,639.5 838.5,626.5 839.5,595.5 840.5,639.5 840.5,623.5 841.5,655.5 841.5,612.5 842.5,629.5 843.5,632.5 843.5,701.5 844.5,654.5 844.5,606.5 845.5,661.5 845.5,625.5 846.5,596.5 847.5,653.5 847.5,613.5 848.5,590.5 848.5,589.5 849.5,629.5 850.5,611.5 850.5,591.5 851.5,613.5 851.5,601.5 852.5,612.5 852.5,664.5 853.5,634.5 854.5,606.5 854.5,629.5 855.5,632.5 855.5,640.5 856.5,654.5 856.5,622.5 857.5,636.5 858.5,611.5 858.5,670.5 859.5,611.5 859.5,668.5 860.5,615.5 861.5,635.5 861.5,620.5 862.5,636.5 862.5,661.5 863.5,604.5 863.5,625.5 864.5,656.5 865.5,628.5 865.5,657.5 866.5,640.5 866.5,628.5 867.5,627.5 868.5,676.5 868.5,662.5 869.5,637.5 869.5,633.5 870.5,612.5 870.5,629.5 871.5,616.5 872.5,642.5 872.5,693.5 873.5,647.5 873.5,674.5 874.5,640.5 875.5,693.5 875.5,615.5 876.5,643.5 876.5,614.5 877.5,609.5 877.5,608.5 878.5,589.5 879.5,585.5 879.5,610.5 880.5,607.5 880.5,645.5 881.5,642.5 881.5,613.5 882.5,620.5 883.5,639.5 883.5,624.5 884.5,612.5 884.5,618.5 885.5,625.5 886.5,610.5 886.5,659.5 887.5,604.5 887.5,615.5 888.5,626.5 888.5,615.5 889.5,602.5 890.5,617.5 890.5,617.5 891.5,616.5 891.5,605.5 892.5,607.5 893.5,638.5 893.5,693.5 894.5,640.5 894.5,636.5 895.5,644.5 895.5,633.5 896.5,610.5 897.5,651.5 897.5,639.5 898.5,619.5 898.5,660.5 899.5,642.5 900.5,608.5 900.5,621.5 901.5,616.5 901.5,690.5 902.5,608.5 902.5,635.5 903.5,657.5 904.5,653.5 904.5,633.5 905.5,615.5 905.5,667.5 906.5,646.5 906.5,614.5 907.5,603.5 908.5,648.5 908.5,671.5 909.5,620.5 909.5,613.5 910.5,664.5 911.5,625.5 911.5,654.5 912.5,621.5 912.5,658.5 913.5,600.5 913.5,625.5 914.5,602.5 915.5,671.5 915.5,662.5 916.5,649.5 916.5,614.5 917.5,646.5 918.5,644.5 918.5,604.5 919.5,612.5 919.5,680.5 920.5,631.5 920.5,630.5 921.5,629.5 922.5,631.5 922.5,612.5 923.5,649.5 923.5,627.5 924.5,658.5 924.5,605.5 925.5,631.5 926.5,594.5 926.5,616.5 927.5,647.5 927.5,598.5 928.5,596.5 929.5,617.5 929.5,712.5 930.5,665.5 930.5,653.5 931.5,632.5 931.5,638.5 932.5,642.5 933.5,647.5 933.5,641.5 934.5,598.5 934.5,635.5 935.5,636.5 936.5,696.5 936.5,661.5 937.5,653.5 937.5,610.5 938.5,610.5 938.5,664.5 939.5,643.5 940.5,631.5 940.5,633.5 941.5,662.5 941.5,718.5 942.5,620.5 943.5,673.5 943.5,608.5 944.5,623.5 944.5,689.5 945.5,645.5 945.5,622.5 946.5,605.5 947.5,641.5 947.5,616.5 948.5,639.5 948.5,648.5 949.5,606.5 949.5,625.5 950.5,675.5 951.5,639.5 951.5,610.5 952.5,642.5 952.5,626.5 953.5,651.5 954.5,634.5 954.5,689.5 955.5,642.5 955.5,613.5 956.5,623.5 956.5,645.5 957.5,651.5 958.5,629.5 958.5,635.5 959.5,601.5 959.5,646.5 960.5,606.5 961.5,651.5 961.5,603.5 962.5,612.5 962.5,655.5 963.5,635.5 963.5,621.5 964.5,637.5 965.5,665.5 965.5,701.5 966.5,633.5 966.5,610.5 967.5,671.5 968.5,632.5 968.5,644.5 969.5,618.5 969.5,658.5 970.5,676.5 970.5,613.5 971.5,641.5 972.5,618.5 972.5,634.5 973.5,616.5 973.5,611.5 974.5,682.5 974.5,656.5 975.5,668.5 976.5,609.5 976.5,700.5 977.5,613.5 977.5,609.5 978.5,624.5 979.5,618.5 979.5,611.5 980.5,635.5 980.5,610.5 981.5,605.5 981.5,642.5 982.5,663.5 983.5,630.5 983.5,685.5" fill="none" stroke="#ff0000" stroke-width="1" stroke-linejoin="bevel" shape-rendering="crispEdges"/>
<path d="M601.5,614V644M602.5,592V615M603.5,598V603M604.5,602V649M605.5,631V656M606.5,627V661M607.5,632V673M608.5,624V635M609.5,607V625M610.5,607V617M611.5,605V631M612.5,630V682M613.5,634V669M614.5,646V662M615.5,640V658M616.5,614V650M617.5,622V662M618.5,617V652M619.5,615V690M620.5,600V668M621.5,593V668M622.5,615V690M623.5,617V652M624.5,622V662M625.5,614V650M626.5,640V658M627.5,646V662M628.5,634V669M629.5,630V682M630.5,605V631M631.5,607V617M632.5,607V625M633.5,624V635M634.5,632V673M635.5,627V661M636.5,631V656M637.5,602V649M638.5,598V603M639.5,592V615M640.5,614V644" fill="none" stroke="#ff0000" stroke-width="1" shape-rendering="crispEdges"/>
<g stroke="#000" stroke-width="1" shape-rendering="crispEdges"><rect x="156.5" y="68.5" width="930" height="734" fill="none"/><line x1="272.5" y1="803" x2="272.5" y2="792"/><line x1="272.5" y1="68" x2="272.5" y2="78"/><line x1="388.5" y1="803" x2="388.5" y2="792"/><line x1="388.5" y1="68" x2="388.5" y2="78"/><line x1="504.5" y1="803" x2="504.5" y2="792"/><line x1="504.5" y1="68" x2="504.5" y2="78"/><line x1="621.5" y1="803" x2="621.5" y2="792"/><line x1="621.5" y1="68" x2="621.5" y2="78"/><line x1="737.5" y1="803" x2="737.5" y2="792"/><line x1="737.5" y1="68" x2="737.5" y2="78"/><line x1="853.5" y1="803" x2="853.5" y2="792"/><line x1="853.5" y1="68" x2="853.5" y2="78"/><line x1="969.5" y1="803" x2="969.5" y2="792"/><line x1="969.5" y1="68" x2="969.5" y2="78"/><line x1="156" y1="720.5" x2="166" y2="720.5"/><line x1="1087" y1="720.5" x2="1076" y2="720.5"/><line x1="156" y1="638.5" x2="166" y2="638.5"/><line x1="1087" y1="638.5" x2="1076" y2="638.5"/><line x1="156" y1="557.5" x2="166" y2="557.5"/><line x1="1087" y1="557.5" x2="1076" y2="557.5"/><line x1="156" y1="475.5" x2="166" y2="475.5"/><line x1="1087" y1="475.5" x2="1076" y2="475.5"/><line x1="156" y1="394.5" x2="166" y2="394.5"/><line x1="1087" y1="394.5" x2="1076" y2="394.5"/><line x1="156" y1="312.5" x2="166" y2="312.5"/><line x1="1087" y1="312.5" x2="1076" y2="312.5"/><line x1="156" y1="231.5" x2="166" y2="231.5"/><line x1="1087" y1="231.5" x2="1076" y2="231.5"/><line x1="156" y1="149.5" x2="166" y2="149.5"/><line x1="1087" y1="149.5" x2="1076" y2="149.5"/></g>
<text transform="translate(149.4,807) scale(0.89,1)" text-anchor="end">0</text>
<text transform="translate(149.4,725) scale(0.89,1)" text-anchor="end">20</text>
<text transform="translate(149.4,643) scale(0.89,1)" text-anchor="end">40</text>
<text transform="translate(149.4,562) scale(0.89,1)" text-anchor="end">60</text>
<text transform="translate(149.4,480) scale(0.89,1)" text-anchor="end">80</text>
<text transform="translate(149.4,399) scale(0.89,1)" text-anchor="end">100</text>
<text transform="translate(149.4,317) scale(0.89,1)" text-anchor="end">120</text>
<text transform="translate(149.4,236) scale(0.89,1)" text-anchor="end">140</text>
<text transform="translate(149.4,154) scale(0.89,1)" text-anchor="end">160</text>
<text transform="translate(149.4,73) scale(0.89,1)" text-anchor="end">180</text>
<text transform="translate(143.6,820) scale(0.89,1)"><tspan textLength="7.5" lengthAdjust="spacingAndGlyphs" dy="-1">-</tspan><tspan dy="1">80</tspan></text>
<text transform="translate(259.6,820) scale(0.89,1)"><tspan textLength="7.5" lengthAdjust="spacingAndGlyphs" dy="-1">-</tspan><tspan dy="1">60</tspan></text>
<text transform="translate(375.6,820) scale(0.89,1)"><tspan textLength="7.5" lengthAdjust="spacingAndGlyphs" dy="-1">-</tspan><tspan dy="1">40</tspan></text>
<text transform="translate(491.6,820) scale(0.89,1)"><tspan textLength="7.5" lengthAdjust="spacingAndGlyphs" dy="-1">-</tspan><tspan dy="1">20</tspan></text>
<text transform="translate(617.3,820) scale(0.89,1)">0</text>
<text transform="translate(730.7,820) scale(0.89,1)">20</text>
<text transform="translate(846.7,820) scale(0.89,1)">40</text>
<text transform="translate(962.7,820) scale(0.89,1)">60</text>
<text transform="translate(1079.7,820) scale(0.89,1)">80</text>
<text class="m" x="601.5" y="839" textLength="36" lengthAdjust="spacingAndGlyphs">f, MHz</text>
<text class="m" transform="translate(121,451.5) rotate(-90)" textLength="30" lengthAdjust="spacingAndGlyphs">S, dB</text>
</svg></body></html>
